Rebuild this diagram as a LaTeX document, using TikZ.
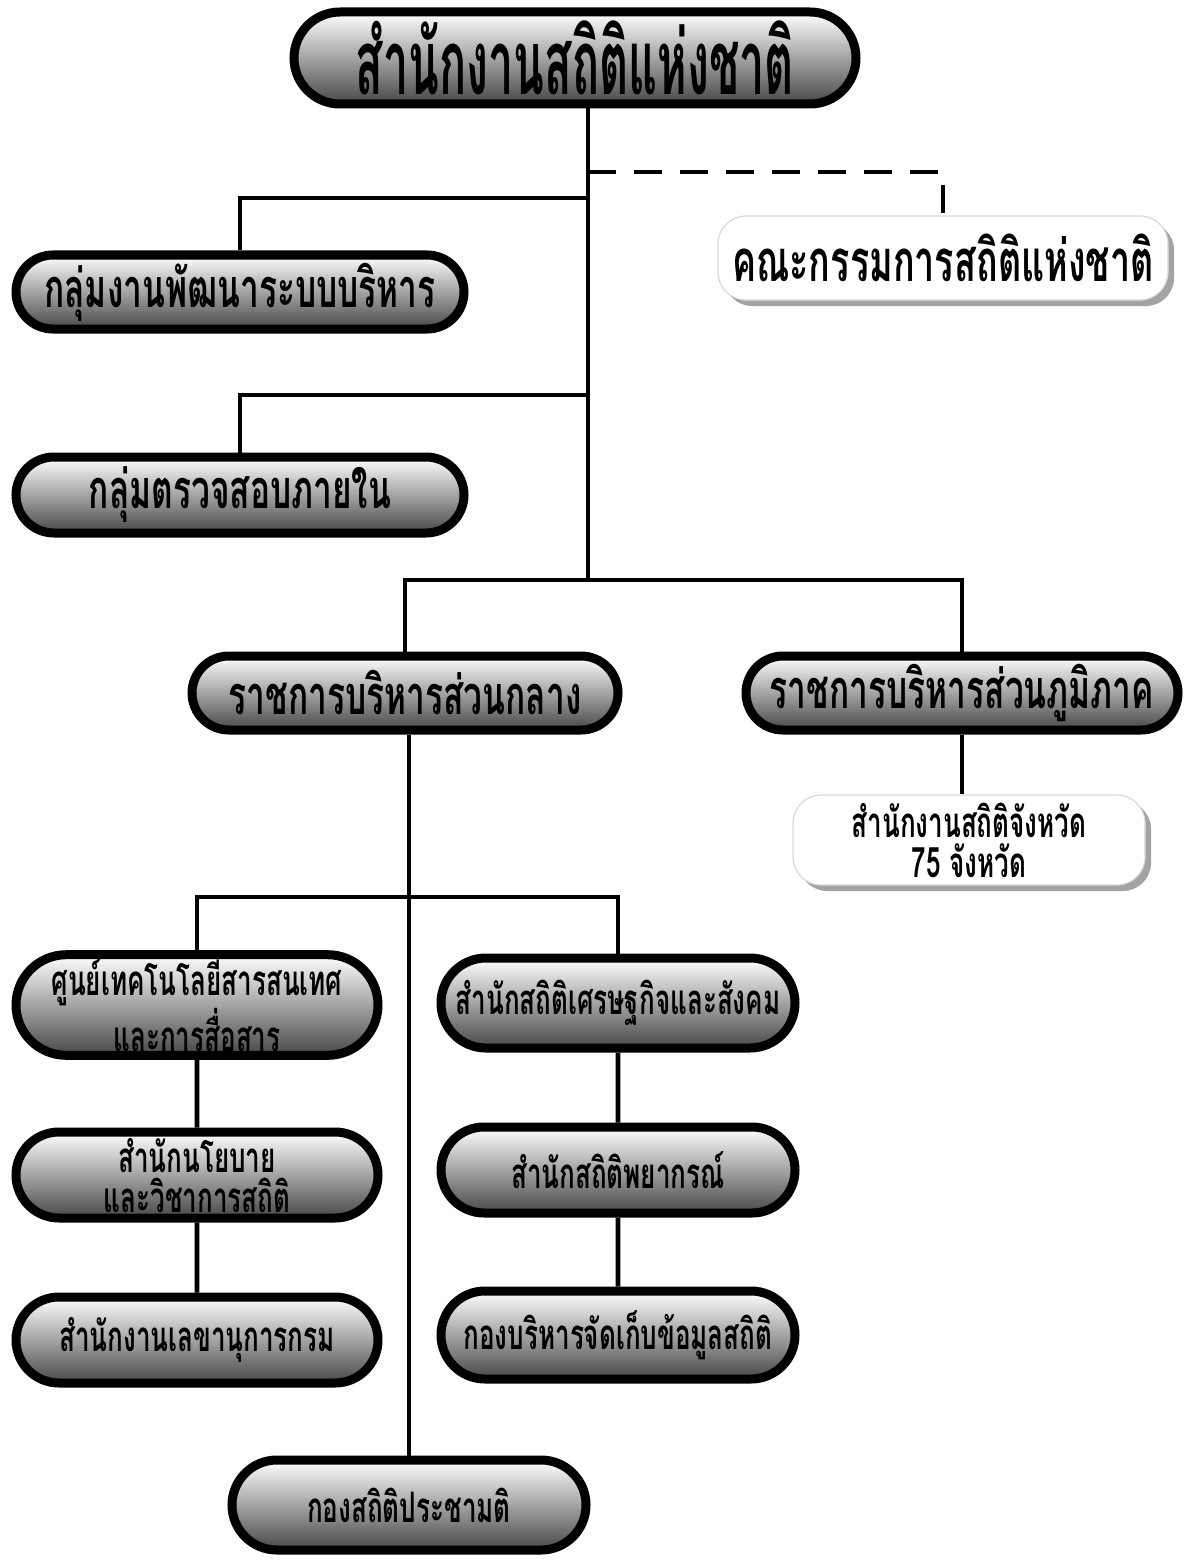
\documentclass[tikz,border=0pt]{standalone}
\usepackage{fontspec}
\newfontfamily\thaifont[Script=Thai,FakeStretch=0.62]{Loma}
\newfontfamily\thaititle[Script=Thai,FakeStretch=0.5]{Loma}
\usetikzlibrary{shapes.misc,shadows}
\tikzset{
  pill/.style={rounded rectangle, draw=black, line width=4.5pt,
    top color=white, bottom color=black!72, align=center, inner sep=2pt,
    drop shadow={shadow xshift=1.5pt, shadow yshift=-4pt, fill=black!40, opacity=0.8},
    preaction={draw=white, line width=10pt}},
  plate/.style={rectangle, rounded corners=14pt, draw=black!15, line width=0.6pt,
    fill=white, align=center,
    drop shadow={shadow xshift=3pt, shadow yshift=-3pt, fill=black!45, opacity=0.8}},
  big/.style={font=\thaititle\bfseries\fontsize{45}{47}\selectfont},
  mid/.style={font=\thaifont\bfseries\fontsize{27}{29}\selectfont},
  low/.style={font=\thaifont\bfseries\fontsize{21}{20}\selectfont},
  link/.style={line width=2.4pt}
}
\begin{document}
\begin{tikzpicture}[x=0.5pt,y=-0.5pt]
\useasboundingbox (0,0) rectangle (1193,1562);
% head office
\node[pill,big,minimum width=285pt,minimum height=46pt] (nso) at (575,58) {สำนักงานสถิติแห่งชาติ};
\node[plate,font=\thaifont\bfseries\fontsize{29}{31}\selectfont,minimum width=225pt,minimum height=42pt] (com) at (943,258) {คณะกรรมการสถิติแห่งชาติ};
\node[pill,mid,minimum width=228pt,minimum height=37pt] (adm) at (240,292) {กลุ่มงานพัฒนาระบบบริหาร};
\node[pill,mid,minimum width=228pt,minimum height=38pt] (aud) at (240,495) {กลุ่มตรวจสอบภายใน};
\node[pill,mid,minimum width=217pt,minimum height=37pt] (cen) at (405,693) {ราชการบริหารส่วนกลาง};
\node[pill,mid,minimum width=220pt,minimum height=37pt] (reg) at (962,693) {ราชการบริหารส่วนภูมิภาค};
\node[plate,low,minimum width=176pt,minimum height=45pt] (prov) at (969,840) {สำนักงานสถิติจังหวัด\\75 จังหวัด};
% central units
\node[pill,low,minimum width=185pt,minimum height=44pt] (ict) at (197,1005) {ศูนย์เทคโนโลยีสารสนเทศ\\และการสื่อสาร};
\node[pill,low,minimum width=181pt,minimum height=45pt] (eco) at (618,1003) {สำนักสถิติเศรษฐกิจและสังคม};
\node[pill,low,minimum width=185pt,minimum height=43pt] (pol) at (197,1175) {สำนักนโยบาย\\และวิชาการสถิติ};
\node[pill,low,minimum width=181pt,minimum height=43pt] (fore) at (618,1170) {สำนักสถิติพยากรณ์};
\node[pill,low,minimum width=185pt,minimum height=43pt] (sec) at (197,1340) {สำนักงานเลขานุการกรม};
\node[pill,low,minimum width=181pt,minimum height=44pt] (col) at (618,1335) {กองบริหารจัดเก็บข้อมูลสถิติ};
\node[pill,low,minimum width=181pt,minimum height=45pt] (pop) at (409,1505) {กองสถิติประชามติ};
% links
\coordinate (dsh) at (588,172);
\coordinate (br1) at (588,198);
\coordinate (br2) at (588,395);
\coordinate (spl) at (588,580);
\coordinate (sub) at (409,897);
\draw[link] (nso.south -| spl) -- (spl);
\draw[link,dash pattern=on 14pt off 9pt] (dsh) -| (com.north);
\draw[link] (br1) -| (adm.north);
\draw[link] (br2) -| (aud.north);
\draw[link] (spl) -| (cen.north);
\draw[link] (spl) -| (reg.north);
\draw[link] (reg.south) -- (reg.south |- prov.north);
\draw[link] (cen.south -| pop) -- (pop.north);
\draw[link] (sub) -| (ict.north);
\draw[link] (sub) -| (eco.north);
\draw[link] (ict) -- (pol);
\draw[link] (pol) -- (sec);
\draw[link] (eco) -- (fore);
\draw[link] (fore) -- (col);
\end{tikzpicture}
\end{document}
